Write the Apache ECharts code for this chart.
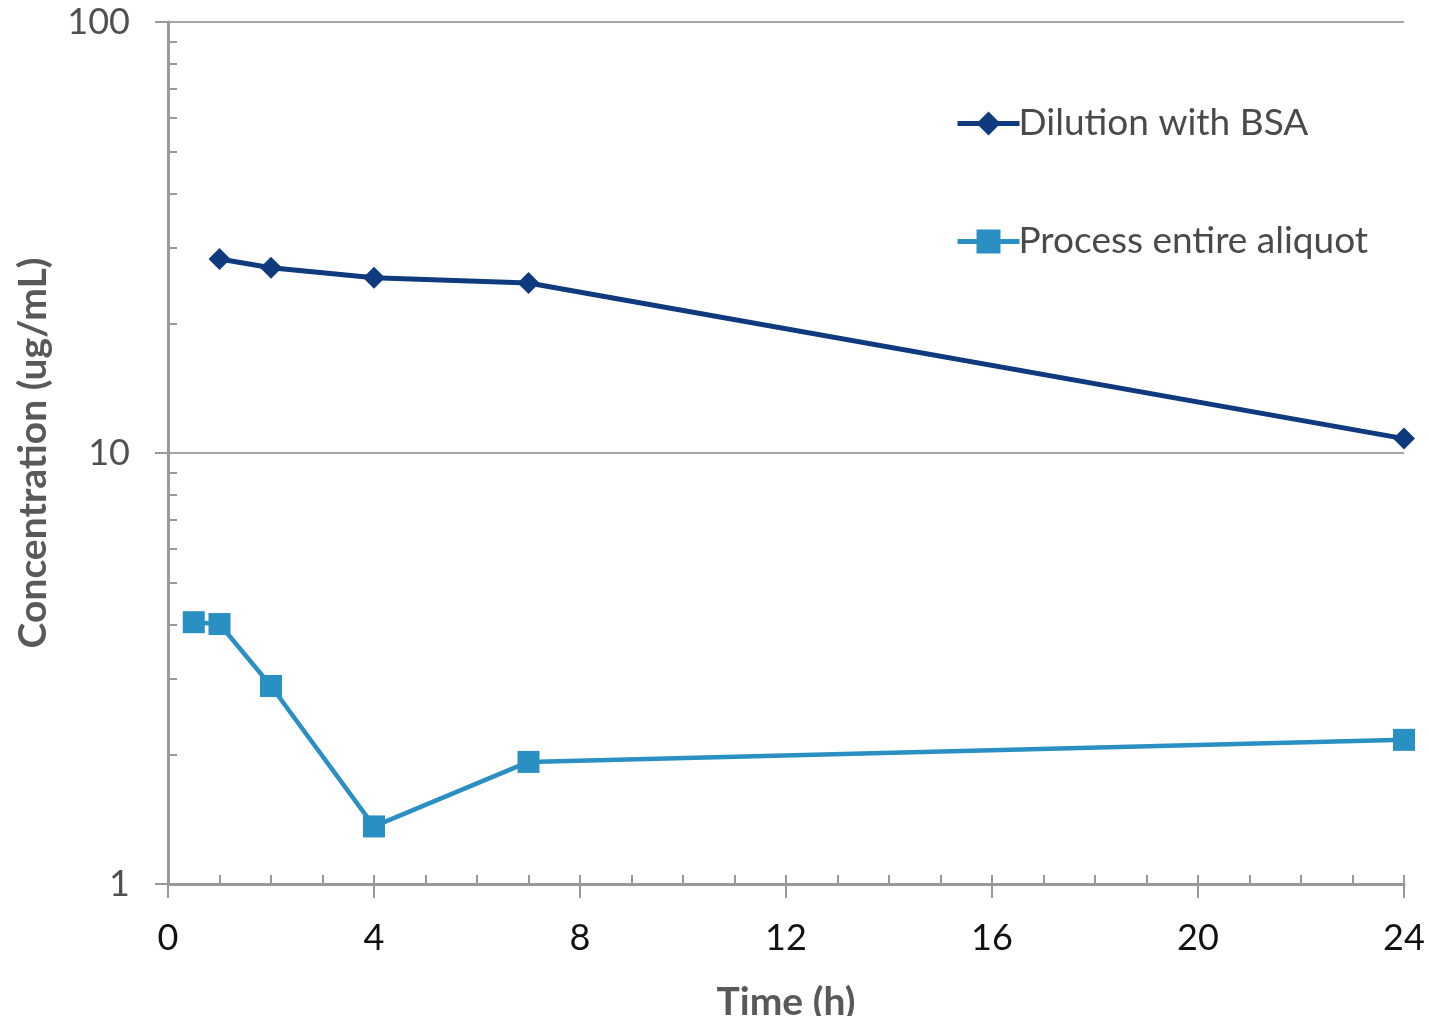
<!DOCTYPE html>
<html>
<head>
<meta charset="utf-8">
<script src="https://cdn.jsdelivr.net/npm/echarts@6/dist/echarts.min.js"></script>
<style>
  html, body { margin: 0; padding: 0; background: #fff; }
  #chart { width: 1429px; height: 1016px; }
</style>
</head>
<body>
<div id="chart"></div>
<script>
// time points (h)
const bsaTime = [1, 2, 4, 7, 24]
const bsaConc = [28.2, 26.9, 25.5, 24.8, 10.8]
const aliquotTime = [0.5, 1, 2, 4, 7, 24]
const aliquotConc = [4.05, 4.01, 2.88, 1.36, 1.92, 2.16]

const xMajor = [0, 4, 8, 12, 16, 20, 24]
const xMinor = [0, 1, 2, 3, 4, 5, 6, 7, 8, 9, 10, 11, 12, 13, 14, 15, 16, 17, 18, 19, 20, 21, 22, 23, 24]
const yMajor = [1, 10, 100]
const yMinor = [2, 3, 4, 5, 6, 7, 8, 9, 20, 30, 40, 50, 60, 70, 80, 90]

const font = 'Lato, "Open Sans", sans-serif'
const axisGray = '#999999'

let chart = echarts.init(document.getElementById('chart'))

function pairs (xs, ys) {
    return xs.map((x, i) => [x, ys[i]])
}

chart.setOption({
    animation: false,
    textStyle: { fontFamily: font },
    grid: { left: 168, right: 25, top: 22, bottom: 132, outerBoundsMode: 'none', containLabel: false },
    legend: {
        orient: 'vertical',
        left: 950,
        top: 100,
        itemWidth: 62,
        itemHeight: 30,
        itemGap: 81,
        lineStyle: { width: 5 },
        textStyle: { fontSize: 37, color: '#4a4a4a', fontFamily: font, padding: [0, 0, 0, -6] },
        data: ['Dilution with BSA', 'Process entire aliquot']
    },
    xAxis: [
        {
            // labels + outward major ticks
            type: 'value',
            min: 0, max: 24, interval: 4,
            name: 'Time (h)',
            nameLocation: 'middle',
            nameGap: 99,
            nameTextStyle: { fontSize: 39, fontWeight: 'bold', color: '#595959', fontFamily: font },
            axisLine: { lineStyle: { color: axisGray, width: 3 } },
            axisTick: { show: true, length: 14, lineStyle: { color: axisGray, width: 2 }, customValues: xMajor },
            axisLabel: { fontSize: 36, color: '#111', margin: 36, fontFamily: font, customValues: xMajor },
            splitLine: { show: false }
        },
        {
            // inward ticks at every hour
            type: 'value',
            position: 'bottom',
            min: 0, max: 24, interval: 4,
            axisLine: { show: false },
            axisTick: { show: true, inside: true, length: 9, lineStyle: { color: axisGray, width: 2 }, customValues: xMinor },
            axisLabel: { show: false },
            splitLine: { show: false }
        }
    ],
    yAxis: [
        {
            type: 'log',
            logBase: 10,
            min: 1, max: 100,
            position: 'left',
            name: 'Concentration (ug/mL)',
            nameLocation: 'middle',
            nameGap: 115,
            nameRotate: 90,
            nameTextStyle: { fontSize: 39, fontWeight: 'bold', color: '#595959', fontFamily: font },
            axisLine: { show: true, lineStyle: { color: axisGray, width: 3 } },
            axisTick: { show: true, length: 13, lineStyle: { color: axisGray, width: 2 }, customValues: yMajor },
            axisLabel: { fontSize: 36, color: '#505050', margin: 38, fontFamily: font, customValues: yMajor },
            splitLine: { show: true, lineStyle: { color: '#a6a6a6', width: 2 } }
        },
        {
            type: 'log',
            logBase: 10,
            min: 1, max: 100,
            position: 'left',
            offset: 0,
            axisLine: { show: false },
            axisTick: { show: true, inside: true, length: 9, lineStyle: { color: axisGray, width: 2 }, customValues: yMinor },
            axisLabel: { show: false },
            splitLine: { show: false }
        }
    ],
    series: [
        {
            name: 'Dilution with BSA',
            type: 'line',
            data: pairs(bsaTime, bsaConc),
            symbol: 'diamond',
            symbolSize: 22,
            lineStyle: { color: '#0f3a7d', width: 5 },
            itemStyle: { color: '#0f3a7d' }
        },
        {
            name: 'Process entire aliquot',
            type: 'line',
            data: pairs(aliquotTime, aliquotConc),
            symbol: 'rect',
            symbolSize: 22,
            lineStyle: { color: '#2a8fc2', width: 4.5 },
            itemStyle: { color: '#2a8fc2' }
        }
    ]
})

window.addEventListener('resize', function () {
    chart.resize()
})
</script>
</body>
</html>
